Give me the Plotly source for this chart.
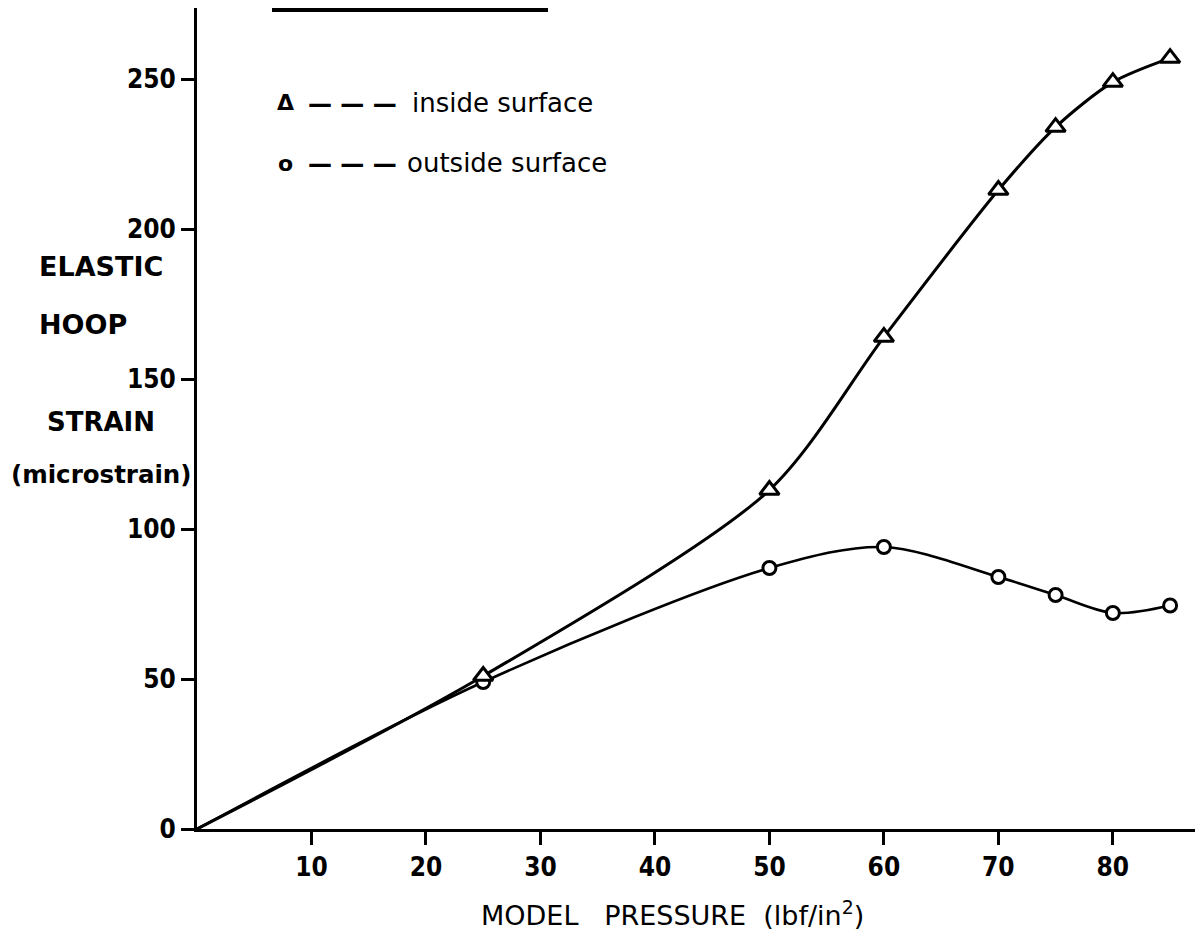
# elastic hoop strain vs model pressure

import plotly.graph_objects as go

pressure = [0, 25, 50, 60, 70, 75, 80, 85]
inside_strain = [0, 51, 113, 164, 213, 234, 249, 257]
outside_strain = [0, 49, 87, 94, 84, 78, 72, 74.5]

x_ticks = [10, 20, 30, 40, 50, 60, 70, 80]
y_ticks = [0, 50, 100, 150, 200, 250]
y_title = ["ELASTIC", "HOOP", "STRAIN", "(microstrain)"]

NARROW = "DejaVu Sans Condensed"
FONT = "DejaVu Sans"

# page body has an 8px margin, so the figure is drawn 8px in from the corner
W, H = 1195, 927
L, T = 189, 0
PW, PH = 1000, 821


def px(x):
    return (x - 8 - L) / PW


def py(y):
    return (T + PH - (y - 8)) / PH


fig = go.Figure()

# lines first, then the markers (white fill leaves a gap in the line)
fig.add_scatter(x=pressure, y=inside_strain, mode='lines', line_shape='spline',
                line=dict(color='black', width=3, smoothing=0.8), showlegend=False)
fig.add_scatter(x=pressure, y=outside_strain, mode='lines', line_shape='spline',
                line=dict(color='black', width=2.6, smoothing=0.9), showlegend=False)
fig.add_scatter(x=pressure[1:], y=outside_strain[1:], mode='markers',
                marker=dict(symbol='circle', size=13, color='white',
                            line=dict(color='black', width=3)),
                showlegend=False)
fig.add_scatter(x=pressure[1:], y=inside_strain[1:], mode='markers',
                marker=dict(symbol='triangle-up', size=17, color='white',
                            line=dict(color='black', width=3)),
                showlegend=False)

tick_font = dict(family=NARROW, size=26, color='black', weight='bold')
annotations = []
# y axis title, stacked words at left
title_pos = [(37, 267, 27), (37, 324, 27), (45, 422, 26), (9, 474, 24.5)]
for txt, (x_, y_, s_) in zip(y_title, title_pos):
    annotations.append(dict(text="<b>" + txt + "</b>", xref='paper', yref='paper',
                            x=px(x_), y=py(y_), showarrow=False,
                            xanchor='left', yanchor='middle',
                            font=dict(family=FONT, size=s_, color='black')))

# key
key_font = dict(family=FONT, size=26, color='black')
for sym, label, y_, lx in [("\u0394", "inside surface", 103, 410),
                            ("o", "outside surface", 163, 405)]:
    annotations.append(dict(text="<b>" + sym + "</b>", xref='paper', yref='paper',
                            x=px(285), y=py(y_), showarrow=False,
                            xanchor='center', yanchor='middle',
                            font=dict(family=FONT, size=22, color='black')))
    annotations.append(dict(text="<b>\u2014 \u2014 \u2014</b>", xref='paper', yref='paper',
                            x=px(352), y=py(y_ + 1), showarrow=False,
                            xanchor='center', yanchor='middle',
                            font=dict(family=FONT, size=24, color='black')))
    annotations.append(dict(text=label, xref='paper', yref='paper',
                            x=px(lx), y=py(y_), showarrow=False,
                            xanchor='left', yanchor='middle', font=key_font))

# x axis title
annotations.append(dict(text="MODEL   PRESSURE  (lbf/in<sup>2</sup>)", xref='paper', yref='paper',
                        x=px(672), y=py(913), showarrow=False,
                        xanchor='center', yanchor='middle',
                        font=dict(family=FONT, size=27, color='black')))

fig.update_layout(
    width=W, height=H,
    margin=dict(l=L, r=W - L - PW, t=T, b=H - T - PH),
    plot_bgcolor='white', paper_bgcolor='white',
    annotations=annotations,
    shapes=[dict(type='line', xref='paper', yref='paper',
                 x0=px(272), x1=px(548), y0=py(10), y1=py(10),
                 line=dict(color='black', width=4))],
    xaxis=dict(range=[0, 87.35], tickvals=x_ticks, ticks='outside', ticklen=13,
               tickwidth=3, tickcolor='black', showline=True, linecolor='black',
               linewidth=3, showgrid=False, zeroline=False, tickfont=tick_font),
    yaxis=dict(range=[0, 273.7], tickvals=y_ticks, ticks='outside', ticklen=13,
               tickwidth=3, tickcolor='black', showline=True, linecolor='black',
               linewidth=3, showgrid=False, zeroline=False, tickfont=tick_font),
)

fig.write_html("out.html")
